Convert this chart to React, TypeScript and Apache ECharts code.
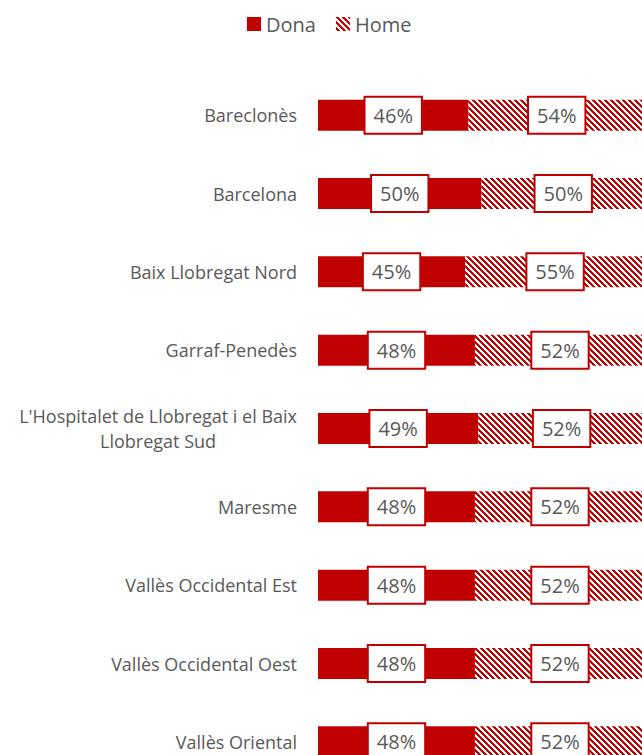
import React, { useEffect, useRef } from "react";
import * as echarts from "echarts";

const categories = [
  "Bareclonès",
  "Barcelona",
  "Baix Llobregat Nord",
  "Garraf-Penedès",
  "L'Hospitalet de Llobregat i el Baix Llobregat Sud",
  "Maresme",
  "Vallès Occidental Est",
  "Vallès Occidental Oest",
  "Vallès Oriental",
];
const donaValues = [46, 50, 45, 48, 49, 48, 48, 48, 48];
const homeValues = [54, 50, 55, 52, 52, 52, 52, 52, 52];
const seriesNames = ["Dona", "Home"];

const RED = "#C00000";
const TEXT = "#595959";
const FONT = "Open Sans";

function makeHatch() {
  const n = 6;
  const c = document.createElement("canvas");
  c.width = n;
  c.height = n;
  const ctx = c.getContext("2d")!;
  ctx.fillStyle = "#ffffff";
  ctx.fillRect(0, 0, n, n);
  ctx.fillStyle = RED;
  for (let y = 0; y < n; y++) {
    for (let x = 0; x < n; x++) {
      const d = (((x - y) % n) + n) % n;
      if (d < 3) ctx.fillRect(x, y, 1, 1);
    }
  }
  return c;
}

function wrap(s: string, max: number) {
  const words = s.split(" ");
  const lines: string[] = [];
  let cur = "";
  for (const w of words) {
    const t = cur ? cur + " " + w : w;
    if (t.length > max && cur) {
      lines.push(cur);
      cur = w;
    } else cur = t;
  }
  if (cur) lines.push(cur);
  return lines;
}

export default function App() {
  const ref = useRef<HTMLDivElement>(null);
  useEffect(() => {
    if (!ref.current) return;
    const chart = echarts.init(ref.current, undefined, { renderer: "svg" });
    const hatch = { image: makeHatch(), repeat: "repeat" } as any;
    const labelStyle = {
      show: true,
      position: "inside",
      formatter: (p: any) => `${p.value}%`,
      backgroundColor: "#ffffff",
      borderColor: RED,
      borderWidth: 2,
      padding: [8, 8, 7, 8],
      fontSize: 20,
      color: TEXT,
      fontFamily: FONT,
    };
    chart.setOption({
      animation: false,
      legend: {
        top: 9,
        left: 242,
        itemWidth: 14,
        itemHeight: 14,
        itemGap: 20,
        icon: "rect",
        textStyle: { fontSize: 20, color: TEXT, fontFamily: FONT },
        data: seriesNames,
      },
      grid: { left: 318, top: 76, width: 327, height: 705, containLabel: false },
      xAxis: {
        type: "value",
        min: 0,
        max: 100,
        show: false,
      },
      yAxis: {
        type: "category",
        inverse: true,
        data: categories,
        axisLine: { show: false },
        axisTick: { show: false },
        axisLabel: {
          margin: 21,
          fontSize: 18,
          color: TEXT,
          fontFamily: FONT,
          formatter: (v: string) =>
            wrap(v, 36)
              .map((l) => `{c|${l}}`)
              .join("\n"),
          rich: {
            c: { align: "center", fontSize: 18, lineHeight: 25, color: TEXT, fontFamily: FONT },
          },
        },
      },
      series: [
        {
          name: seriesNames[0],
          type: "bar",
          stack: "total",
          barWidth: 31,
          data: donaValues,
          itemStyle: { color: RED },
          label: labelStyle,
        },
        {
          name: seriesNames[1],
          type: "bar",
          stack: "total",
          barWidth: 31,
          data: homeValues,
          itemStyle: { color: hatch },
          label: labelStyle,
        },
      ],
    });
    return () => chart.dispose();
  }, []);
  return (
    <div
      style={{ position: "absolute", left: 0, top: 0, width: 642, height: 755, overflow: "hidden", background: "#fff" }}
    >
      <div ref={ref} style={{ width: 660, height: 800 }} />
    </div>
  );
}
